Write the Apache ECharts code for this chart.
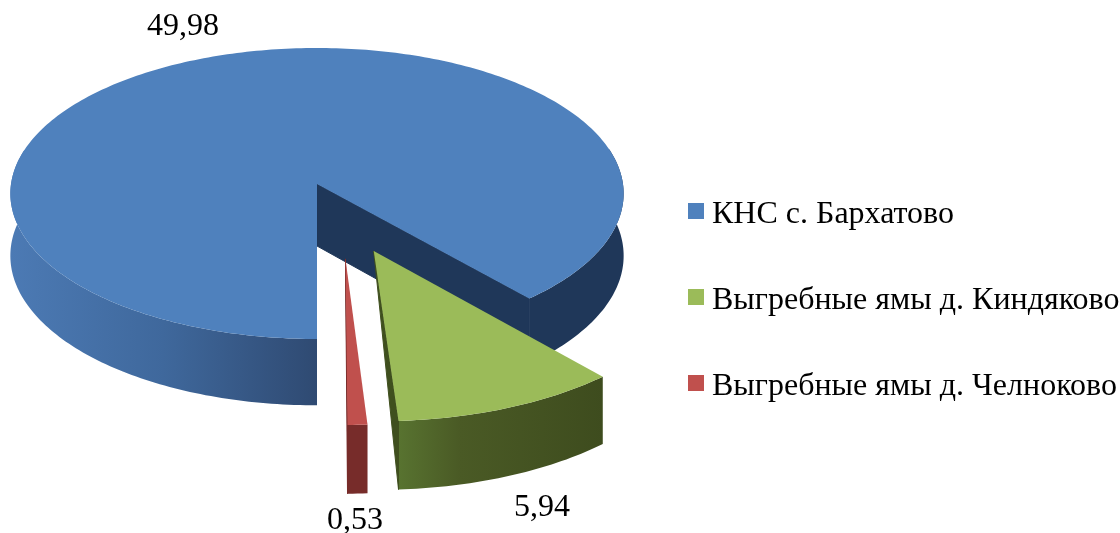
<!DOCTYPE html>
<html><head><meta charset="utf-8">
<style>html,body{margin:0;padding:0;background:#fff}#c{width:1120px;height:533px}</style>
<script src="https://cdn.jsdelivr.net/npm/echarts@6/dist/echarts.min.js"></script>
</head><body><div id="c"></div>
<script>
const categories = ['КНС с. Бархатово', 'Выгребные ямы д. Киндяково', 'Выгребные ямы д. Челноково'];
const values = [49.98, 5.94, 0.53];
const valueLabels = ['49,98', '5,94', '0,53'];

// styling and layout of the 3D pie
const topColors = ['#4f81bd', '#9bbb59', '#c0504d'];
const wallColors = ['#1f3759', '#3f4f1e', '#772c2a'];
const sideStops = [
  [[0, '#4c7ab4'], [0.25, '#3f689c'], [0.5, '#2f4a72'], [0.65, '#1f3759'], [1, '#1f3759']],
  [[0, '#587330'], [0.3, '#4a5a25'], [1, '#3e4c1e']],
  [[0, '#772c2a'], [1, '#772c2a']]
];
const offsetU = [0, 0.18, 0.09];
const offsetV = [0, 0.449, 0.5];
const radiusScale = [1, 1.03, 1];
const wallApexDepth = [1, 0, 0];
const labelPos = [[183, 27], [542, 508], [355, 521]];
const view = { cx: 317, cy: 184, rx: 306, ry: 144.9, p: 0.0653, depth: 62, start: 180 };

const total = values.reduce((a, b) => a + b, 0);
function project(u, v, z) {
  const s = 1 / (1 - view.p * v);
  return [view.cx + view.rx * u * s, view.cy + view.ry * v * s + view.depth * z * s];
}
function rim(i, deg, z) {
  const t = deg * Math.PI / 180;
  return project(offsetU[i] + radiusScale[i] * Math.sin(t), offsetV[i] - radiusScale[i] * Math.cos(t), z);
}
function renderSlice(params, api) {
  const i = params.seriesIndex;
  const value = api.value(0);
  let before = 0;
  for (let k = 0; k < i; k++) before += values[k];
  const a0 = view.start + before / total * 360;
  const a1 = a0 + value / total * 360;
  const n = Math.max(4, Math.ceil((a1 - a0) / 1));
  const angles = [];
  for (let k = 0; k <= n; k++) angles.push(a0 + (a1 - a0) * k / n);
  const apex = project(offsetU[i], offsetV[i], 0);
  const apexLow = project(offsetU[i], offsetV[i], wallApexDepth[i]);
  const children = [];
  // outer rim: only the runs that face the viewer
  const runs = [];
  let run = null;
  angles.forEach(d => {
    if (Math.cos(d * Math.PI / 180) < 0.25) {
      if (!run) { run = []; runs.push(run); }
      run.push(d);
    } else run = null;
  });
  const xs = angles.map(d => rim(i, d, 0)[0]);
  const x0 = Math.min.apply(null, xs), x1 = Math.max.apply(null, xs);
  runs.forEach(r => {
    const pts = r.map(d => rim(i, d, 0)).concat(r.slice().reverse().map(d => rim(i, d, 1)));
    const fill = new echarts.graphic.LinearGradient(x0, 0, x1, 0,
      sideStops[i].map(s => ({ offset: s[0], color: s[1] })), true);
    children.push({
      type: 'polygon',
      shape: { points: pts },
      style: { fill }
    });
  });
  // cut wall at the end angle of the slice
  children.push({
    type: 'polygon',
    shape: { points: [apex, rim(i, a1, 0), rim(i, a1, 1), apexLow] },
    style: { fill: wallColors[i], stroke: wallColors[i], lineWidth: 1 }
  });
  // top face
  children.push({
    type: 'polygon',
    shape: { points: [apex].concat(angles.map(d => rim(i, d, 0))) },
    style: { fill: topColors[i] }
  });
  children.push({
    type: 'text',
    style: {
      text: valueLabels[i], x: labelPos[i][0], y: labelPos[i][1],
      align: 'center', verticalAlign: 'middle',
      font: '32px "Liberation Serif"', fill: '#000'
    }
  });
  return { type: 'group', children };
}

const chart = echarts.init(document.getElementById('c'), null, { renderer: 'canvas' });
chart.setOption({
  animation: false,
  backgroundColor: '#fff',
  legend: {
    orient: 'vertical', left: 683, top: 194,
    itemWidth: 16, itemHeight: 24, itemGap: 54,
    icon: 'path://M0,0H16V16H0Z M0,24L0,24',
    itemStyle: { borderWidth: 0 },
    textStyle: { fontFamily: 'Liberation Serif', fontSize: 32, color: '#000', padding: [0, 0, 0, 3], lineHeight: 32 },
    data: categories
  },
  series: categories.map((name, i) => ({
    type: 'custom',
    name,
    coordinateSystem: 'none',
    itemStyle: { color: topColors[i] },
    renderItem: renderSlice,
    clip: false,
    silent: true,
    data: [[values[i]]]
  }))
});
</script></body></html>
